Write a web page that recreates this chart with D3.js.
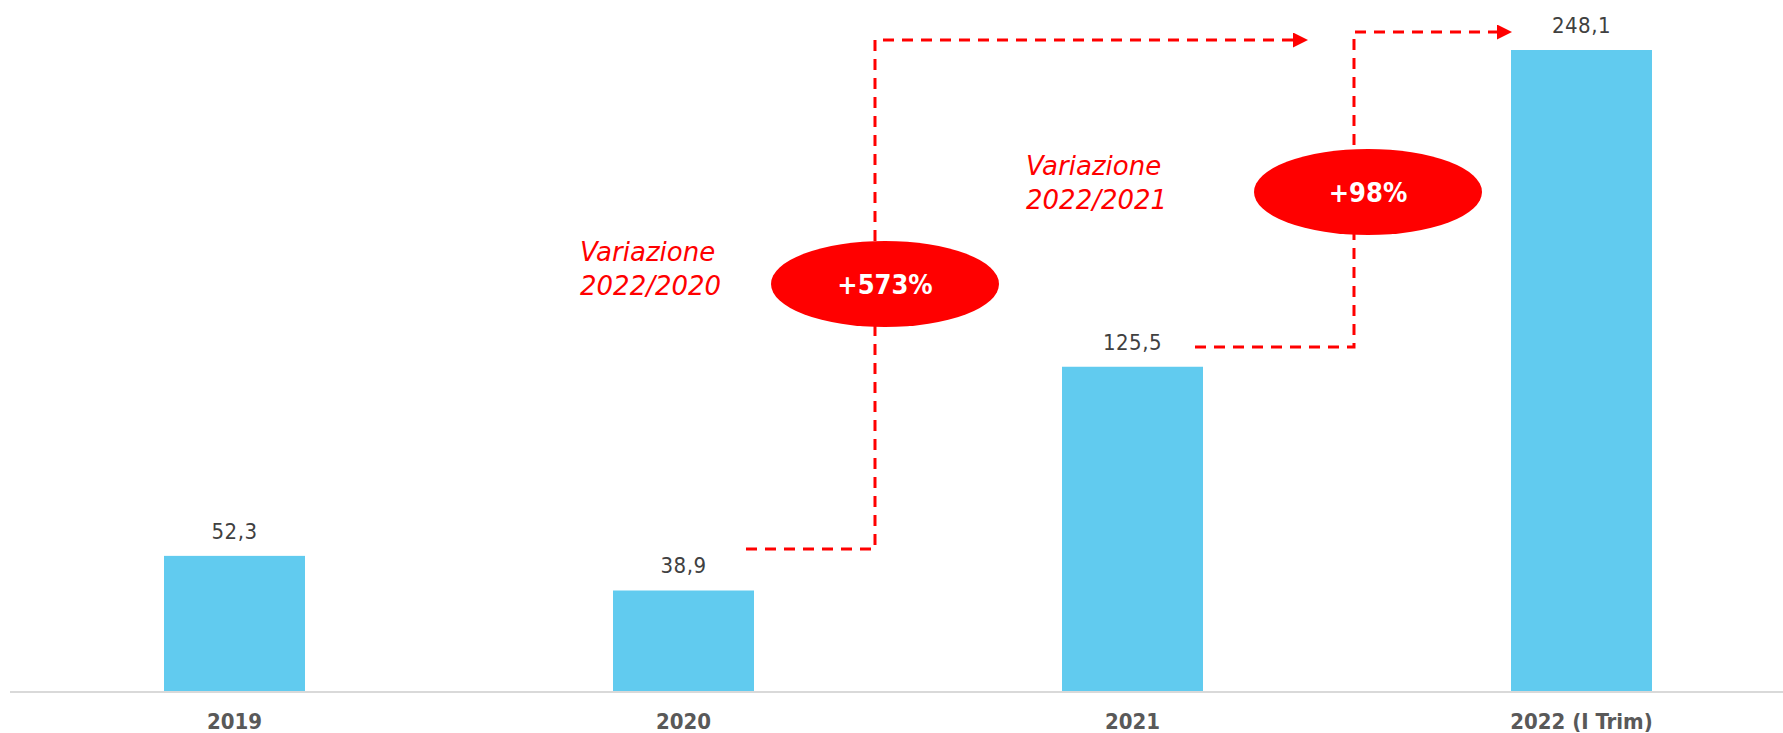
<!DOCTYPE html>
<html lang="it">
<head>
  <meta charset="UTF-8">
  <script src="https://d3js.org/d3.v7.min.js"></script>
  <style>
body { margin: 0; background: #fff; }
.value { font: 22px "DejaVu Sans Condensed", "DejaVu Sans", sans-serif; fill: #404040; text-anchor: middle; letter-spacing: 0.5px; }
.tick-label { font: bold 22px "DejaVu Sans Condensed", "DejaVu Sans", sans-serif; fill: #595959; text-anchor: middle; }
.caption { font: italic 26px "DejaVu Sans", sans-serif; fill: #ff0000; }
.badge { font: bold 27px "DejaVu Sans Condensed", "DejaVu Sans", sans-serif; fill: #fff; text-anchor: middle; }
.guide { fill: none; stroke: #ff0000; stroke-width: 3; stroke-dasharray: 11 8; }
</style>
</head>
<body>
<svg width="1783" height="733"></svg>
<script>
// dati
const categories = ["2019", "2020", "2021", "2022 (I Trim)"];
const values = [52.3, 38.9, 125.5, 248.1];
const valueLabels = ["52,3", "38,9", "125,5", "248,1"];

// variazioni
const changeLabels = ["+573%", "+98%"];
const changeCaptions = [["Variazione", "2022/2020"], ["Variazione", "2022/2021"]];

const width = 1783, height = 733;
const svg = d3.select("svg");

const x = d3.scaleBand()
  .domain(categories)
  .range([10, 1806])
  .paddingInner(0.686)
  .paddingOuter(0.343);

const y = d3.scaleLinear()
  .domain([0, 248.1])
  .range([691, 50]);

const bw = x.bandwidth();

// barre
svg.selectAll(".bar")
  .data(values)
  .enter().append("rect")
  .attr("class", "bar")
  .attr("x", (d, i) => x(categories[i]))
  .attr("y", d => y(d))
  .attr("width", bw)
  .attr("height", d => y(0) - y(d))
  .attr("fill", "#61cbef");

// asse x
svg.append("line")
  .attr("x1", 10).attr("x2", width)
  .attr("y1", y(0) + 1).attr("y2", y(0) + 1)
  .attr("stroke", "#d9d9d9")
  .attr("stroke-width", 2);

svg.selectAll(".tick-label")
  .data(categories)
  .enter().append("text")
  .attr("class", "tick-label")
  .attr("x", d => x(d) + bw / 2)
  .attr("y", 729)
  .text(d => d);

svg.selectAll(".value")
  .data(values)
  .enter().append("text")
  .attr("class", "value")
  .attr("x", (d, i) => x(categories[i]) + bw / 2)
  .attr("y", d => y(d) - 17)
  .text((d, i) => valueLabels[i]);

// freccia
svg.append("defs").append("marker")
  .attr("id", "arrow")
  .attr("viewBox", "0 0 10 10")
  .attr("refX", 0).attr("refY", 5)
  .attr("markerWidth", 15).attr("markerHeight", 15)
  .attr("markerUnits", "userSpaceOnUse")
  .attr("orient", "auto")
  .append("path")
  .attr("d", "M0,0 L10,5 L0,10 Z")
  .attr("fill", "#ff0000");

// linee tratteggiate 2020 -> 2022 e 2021 -> 2022
const r2020 = x(categories[1]) + bw, r2021 = x(categories[2]) + bw, l2022 = x(categories[3]);
const guides = [
  [[r2020 - 8, 549], [r2020 + 121, 549], [r2020 + 121, 40], [l2022 - 218, 40]],
  [[r2021 - 8, 347], [r2021 + 151, 347], [r2021 + 151, 32], [l2022 - 14, 32]]
];
svg.selectAll(".guide")
  .data(guides)
  .enter().append("path")
  .attr("class", "guide")
  .attr("d", d3.line())
  .attr("marker-end", "url(#arrow)");

const badgeCenters = [[r2020 + 131, 284], [r2021 + 165, 192]];
const badges = svg.selectAll(".badge-g")
  .data(changeLabels)
  .enter().append("g")
  .attr("transform", (d, i) => `translate(${badgeCenters[i][0]},${badgeCenters[i][1]})`);
badges.append("ellipse")
  .attr("rx", 114).attr("ry", 43)
  .attr("fill", "#ff0000");
badges.append("text")
  .attr("class", "badge")
  .attr("y", 10)
  .text(d => d);

const captionPos = [[580, 261], [1026, 175]];
changeCaptions.forEach((lines, i) => {
  svg.append("text")
    .attr("class", "caption")
    .attr("x", captionPos[i][0])
    .attr("y", captionPos[i][1])
    .selectAll("tspan")
    .data(lines)
    .enter().append("tspan")
    .attr("x", captionPos[i][0])
    .attr("dy", (d, j) => j ? 34 : 0)
    .text(d => d);
});
</script>
</body>
</html>
